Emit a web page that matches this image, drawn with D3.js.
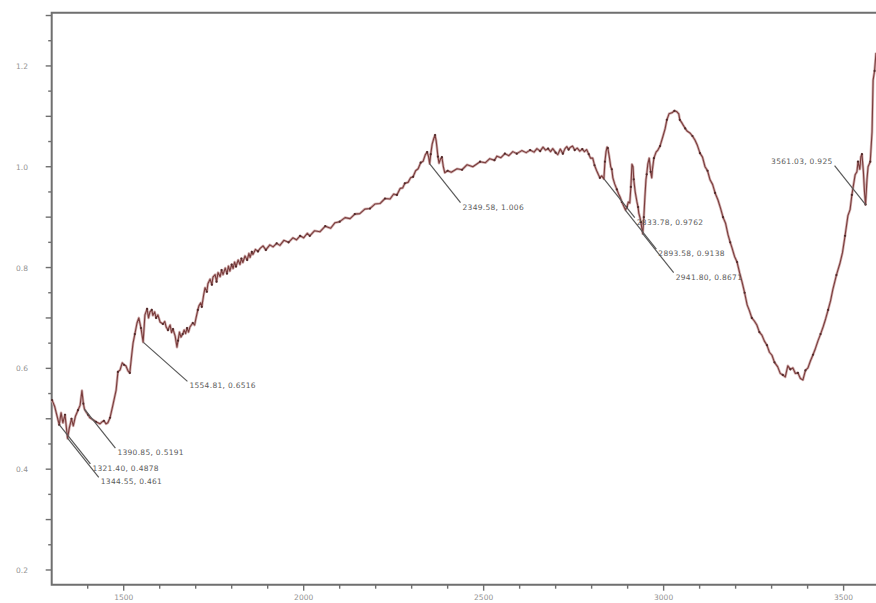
<!DOCTYPE html>
<html>
<head>
<meta charset="utf-8">
<script src="https://cdn.jsdelivr.net/npm/d3@7"></script>
<style>
  html, body { margin: 0; padding: 0; background: #fff; }
  svg { display: block; font-family: "DejaVu Sans", sans-serif; }
</style>
</head>
<body>
<div id="graph-pane"></div>
<script>
// spectrum (wavenumber, absorbance)
var wavenumber = [1301,1308,1315,1321,1326,1331,1337,1344,1349,1355,1360,1366,1373,1379,1384,1388,1391,1396,1401,1406,
  1415,1423,1434,1440,1445,1451,1456,1462,1470,1479,1484,1490,1496,1501,1506,1512,1517,1522,1526,1531,
  1537,1542,1548,1554,1559,1565,1569,1573,1578,1581,1586,1590,1595,1601,1609,1614,1618,1623,1629,1633,
  1637,1643,1648,1651,1655,1659,1664,1668,1672,1676,1680,1684,1692,1697,1701,1706,1709,1714,1717,1722,
  1726,1731,1734,1740,1745,1748,1754,1758,1762,1768,1772,1776,1782,1787,1791,1795,1800,1804,1808,1812,
  1818,1823,1827,1831,1837,1843,1848,1851,1856,1859,1866,1873,1879,1887,1895,1906,1915,1925,1934,1945,
  1958,1970,1980,1990,2000,2010,2017,2030,2045,2060,2075,2087,2100,2115,2129,2142,2156,2170,2184,2198,
  2212,2226,2240,2250,2259,2268,2275,2281,2290,2297,2304,2311,2318,2325,2332,2338,2343,2347,2350,2353,
  2357,2361,2365,2368,2370,2373,2376,2380,2384,2388,2392,2400,2410,2426,2440,2454,2470,2490,2505,2517,
  2530,2537,2548,2559,2570,2581,2592,2606,2618,2629,2640,2648,2657,2665,2672,2679,2686,2692,2700,2706,
  2713,2720,2726,2731,2736,2740,2747,2753,2760,2767,2774,2780,2786,2792,2797,2803,2808,2814,2819,2823,
  2828,2834,2837,2840,2843,2845,2849,2853,2856,2859,2864,2870,2875,2879,2884,2889,2894,2898,2902,2906,
  2909,2912,2915,2917,2921,2926,2929,2931,2934,2937,2940,2942,2945,2948,2951,2953,2956,2960,2964,2967,
  2969,2973,2979,2984,2990,2998,3004,3009,3015,3023,3030,3037,3042,3045,3050,3054,3060,3065,3073,3080,
  3087,3094,3101,3108,3115,3122,3129,3136,3143,3151,3158,3165,3172,3179,3185,3190,3197,3204,3211,3218,
  3225,3232,3238,3245,3252,3259,3266,3273,3280,3287,3294,3301,3308,3317,3324,3331,3338,3345,3352,3359,
  3366,3373,3380,3387,3394,3401,3408,3415,3422,3429,3436,3443,3450,3457,3464,3470,3480,3490,3497,3504,
  3512,3518,3523,3532,3537,3540,3545,3548,3551,3555,3558,3561,3565,3568,3574,3579,3582,3586,3590];

var absorbance = [0.537,0.525,0.505,0.488,0.512,0.492,0.508,0.461,0.482,0.500,0.486,0.505,0.517,0.527,0.556,0.530,0.519,0.513,0.508,0.502,
  0.498,0.494,0.490,0.494,0.496,0.490,0.492,0.502,0.527,0.557,0.593,0.597,0.611,0.607,0.605,0.595,0.591,0.625,0.650,0.668,
  0.690,0.700,0.680,0.652,0.706,0.718,0.700,0.712,0.716,0.705,0.712,0.700,0.706,0.692,0.688,0.693,0.682,0.676,0.686,0.671,
  0.678,0.664,0.642,0.655,0.672,0.662,0.668,0.676,0.669,0.680,0.672,0.682,0.690,0.686,0.700,0.716,0.724,0.730,0.722,0.745,
  0.760,0.752,0.768,0.777,0.766,0.781,0.786,0.772,0.790,0.782,0.795,0.786,0.799,0.788,0.803,0.793,0.806,0.798,0.811,0.802,
  0.815,0.806,0.818,0.810,0.823,0.815,0.828,0.820,0.831,0.826,0.836,0.832,0.838,0.843,0.835,0.845,0.841,0.848,0.844,0.854,
  0.850,0.859,0.855,0.863,0.859,0.868,0.863,0.873,0.871,0.882,0.878,0.889,0.891,0.899,0.897,0.906,0.907,0.916,0.917,0.926,
  0.927,0.937,0.936,0.946,0.944,0.957,0.958,0.967,0.969,0.978,0.980,0.992,0.996,1.008,1.011,1.024,1.029,1.020,1.006,1.025,
  1.045,1.055,1.063,1.052,1.040,1.020,1.007,1.015,1.019,1.000,0.988,0.992,0.989,0.996,0.994,1.004,1.000,1.010,1.008,1.016,
  1.013,1.021,1.018,1.026,1.022,1.030,1.026,1.032,1.028,1.033,1.029,1.036,1.031,1.039,1.033,1.036,1.030,1.036,1.028,1.024,
  1.035,1.026,1.036,1.040,1.034,1.038,1.041,1.033,1.037,1.031,1.035,1.030,1.034,1.025,1.017,1.017,1.003,0.992,0.984,0.978,
  0.982,0.976,1.010,1.030,1.039,1.037,1.020,1.000,0.995,0.978,0.966,0.955,0.946,0.940,0.930,0.922,0.914,0.920,0.930,0.928,
  0.960,1.005,1.000,0.975,0.950,0.930,0.920,0.908,0.900,0.890,0.875,0.867,0.900,0.940,0.975,0.985,1.005,1.017,0.990,0.978,
  0.995,1.017,1.029,1.033,1.041,1.060,1.075,1.093,1.105,1.107,1.111,1.109,1.105,1.093,1.088,1.083,1.076,1.071,1.067,1.061,
  1.053,1.042,1.027,1.019,1.000,0.992,0.974,0.965,0.948,0.934,0.918,0.900,0.888,0.865,0.850,0.839,0.822,0.811,0.790,0.771,
  0.750,0.726,0.715,0.700,0.694,0.686,0.672,0.666,0.654,0.646,0.632,0.626,0.612,0.603,0.590,0.587,0.583,0.605,0.598,0.601,
  0.590,0.591,0.580,0.577,0.596,0.601,0.615,0.627,0.640,0.655,0.668,0.682,0.698,0.716,0.735,0.756,0.785,0.809,0.830,0.863,
  0.903,0.915,0.944,0.984,0.990,1.010,0.995,1.020,1.025,0.990,0.950,0.925,0.975,1.000,1.010,1.069,1.172,1.190,1.226];

// peak labels
var peakX = [1321.40, 1344.55, 1390.85, 1554.81, 2349.58, 2833.78, 2893.58, 2941.80, 3561.03];
var peakY = [0.4878, 0.461, 0.5191, 0.6516, 1.006, 0.9762, 0.9138, 0.8671, 0.925];
var peakText = ["1321.40, 0.4878", "1344.55, 0.461", "1390.85, 0.5191", "1554.81, 0.6516", "2349.58, 1.006",
  "2833.78, 0.9762", "2893.58, 0.9138", "2941.80, 0.8671", "3561.03, 0.925"];
var peakSide = ["right", "right", "right", "right", "right", "right", "right", "right", "left"];

var yTickLabels = [0.2, 0.4, 0.6, 0.8, 1.0, 1.2];
var xTickLabels = [1500, 2000, 2500, 3000, 3500];

function displayGraph(){
  var W = 876, H = 603;
  var left = 51.7, top = 12.7, bottom = 584.7, right = 876;

  var svg = d3.select("#graph-pane")
    .append("svg")
      .attr("width", W)
      .attr("height", H)
      .attr("id", "graph");

  var x = d3.scaleLinear().domain([1300, 3590]).range([left, right]);
  var y = d3.scaleLinear().domain([0.1708, 1.3056]).range([bottom, top]);

  var grey = "#6f6f6f";

  // y axis: major every 0.1, minor every 0.05, labels every 0.2
  var yTicks = d3.range(0.2, 1.3001, 0.05);
  svg.append("g").selectAll("line")
    .data(yTicks)
    .enter().append("line")
      .attr("x1", left)
      .attr("x2", (d, i) => i % 2 == 0 ? left - 6 : left - 3.5)
      .attr("y1", d => y(d)).attr("y2", d => y(d))
      .attr("stroke", grey).attr("stroke-width", 1.4);
  svg.append("g").selectAll("text")
    .data(yTickLabels)
    .enter().append("text")
      .attr("x", 28)
      .attr("y", d => y(d) + 3)
      .attr("text-anchor", "end")
      .attr("font-size", 7.5)
      .attr("fill", "#939393")
      .text(d => d.toFixed(1));

  // x axis: ticks every 100, labels every 500
  var xTicks = d3.range(1400, 3590, 100);
  svg.append("g").selectAll("line")
    .data(xTicks)
    .enter().append("line")
      .attr("x1", d => x(d)).attr("x2", d => x(d))
      .attr("y1", bottom)
      .attr("y2", d => d % 500 == 0 ? bottom + 6 : bottom + 4)
      .attr("stroke", grey).attr("stroke-width", 1.4);
  svg.append("g").selectAll("text")
    .data(xTickLabels)
    .enter().append("text")
      .attr("x", d => x(d))
      .attr("y", 600)
      .attr("text-anchor", "middle")
      .attr("font-size", 7.5)
      .attr("fill", "#939393")
      .text(d => d);

  // frame (left, top, bottom; right side runs off the picture)
  svg.append("path")
    .attr("d", "M" + right + "," + top + "H" + left + "V" + bottom + "H" + right)
    .attr("fill", "none")
    .attr("stroke", grey)
    .attr("stroke-width", 2);

  // spectrum
  var pts = wavenumber.map((w, i) => [w, absorbance[i]]);
  var line = d3.line().x(d => x(d[0])).y(d => y(d[1]));
  svg.append("path")
    .datum(pts)
    .attr("d", line)
    .attr("fill", "none")
    .attr("stroke", "#d2b0b0")
    .attr("stroke-width", 2.6)
    .attr("stroke-linejoin", "round");
  svg.append("path")
    .datum(pts)
    .attr("d", line)
    .attr("fill", "none")
    .attr("stroke", "#7a3c3c")
    .attr("stroke-width", 1.1)
    .attr("stroke-linejoin", "round");
  svg.append("g").selectAll("circle")
    .data(pts.filter((d, i) => i % 3 == 0))
    .enter().append("circle")
      .attr("cx", d => x(d[0]))
      .attr("cy", d => y(d[1]))
      .attr("r", 1.1)
      .attr("fill", "#4f2a2a");

  // peak labels with leader lines
  var peaks = peakX.map((px, i) => ({x: px, y: peakY[i], text: peakText[i], side: peakSide[i]}));
  var g = svg.append("g");
  peaks.forEach(function(p){
    var sx = p.side == "right" ? 1 : -1;
    var x0 = x(p.x), y0 = y(p.y);
    // the 1554.81 leader runs longer and flatter than the rest
    var dx = p.x == 1554.81 ? 44 : 31;
    var x1 = x0 + dx * sx, y1 = y0 + 39 * sx;
    g.append("line")
      .attr("x1", x0).attr("y1", y0)
      .attr("x2", x1).attr("y2", y1)
      .attr("stroke", "#5a5a5a")
      .attr("stroke-width", 1.2);
    g.append("text")
      .attr("x", p.side == "right" ? x1 + 2 : x1 - 2)
      .attr("y", p.side == "right" ? y1 + 7 : y1 - 2)
      .attr("text-anchor", p.side == "right" ? "start" : "end")
      .attr("font-size", 7.5)
      .attr("letter-spacing", 0.3)
      .attr("fill", "#5c5c5c")
      .text(p.text);
  });
};

displayGraph();
</script>
</body>
</html>
